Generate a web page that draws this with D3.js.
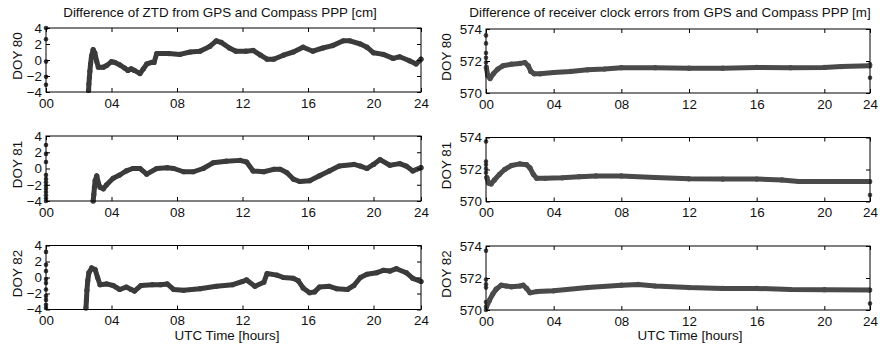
<!DOCTYPE html>
<html><head><meta charset="utf-8">
<script src="https://cdn.jsdelivr.net/npm/d3@7"></script>
<style>
body{margin:0;background:#fff}
svg{display:block}
text{font-family:"Liberation Sans",Arial,Helvetica,sans-serif;fill:#111}
</style>
</head><body><svg id="c" width="880" height="352"></svg>
<script>
// ---------- data ----------
const xTickHoursLeft = [0,4,8,12,16,20,22.9];
const xTickHoursRight = [0,4,8,12,16,20,22.7];
const xTickLabels = ["00","04","08","12","16","20","24"];
const ztdTicks = [-4,-2,0,2,4];
const clockTicks = [570,572,574];
const rowLabels = ["DOY 80","DOY 81","DOY 82"];

const ztd80Start = [[0,4],[0,2.6],[0,-0.2],[0,-2.1],[0,-3.1]];
const ztd80 = [[2.6,-3.8],[2.62,-3.0],[2.65,-2.2],[2.68,-1.4],[2.72,-0.5],[2.78,0.5],[2.88,1.3],[2.98,0.9],[3.1,-0.2],[3.2,-0.9],[3.5,-0.9],[3.7,-0.7],[4.0,-0.2],[4.2,-0.3],[4.5,-0.6],[4.8,-1.0],[5.0,-1.3],[5.2,-1.1],[5.4,-1.3],[5.74,-1.7],[5.95,-1.1],[6.15,-0.5],[6.45,-0.3],[6.6,-0.3],[6.76,0.8],[7.5,0.8],[8.18,0.7],[8.8,1.0],[9.4,1.1],[10.0,1.7],[10.4,2.4],[10.7,2.2],[11.2,1.5],[11.6,1.1],[12.2,1.1],[12.65,1.2],[13.1,0.6],[13.5,0.1],[13.9,0.1],[14.5,0.6],[15.1,1.0],[15.7,1.6],[16.3,1.1],[16.9,1.5],[17.5,1.8],[18.15,2.4],[18.56,2.4],[19.2,2.0],[19.6,1.6],[20.0,0.9],[20.6,0.7],[21.2,0.2],[21.6,0.4],[22.2,-0.1],[22.6,-0.5],[22.9,0.1]];

const ztd81Start = [[0,2.9],[0,1.8],[0,0.8],[0,-0.8],[0,-1.3],[0,-1.7],[0,-2.1],[0,-2.5],[0,-2.9],[0,-3.3],[0,-3.7],[0,-4]];
const ztd81 = [[2.88,-4],[2.92,-3.2],[2.96,-2.3],[3.0,-1.5],[3.1,-0.9],[3.2,-1.8],[3.3,-2.3],[3.5,-2.5],[3.7,-2.0],[4.1,-1.2],[4.5,-0.8],[4.9,-0.3],[5.3,0],[5.74,0],[6.15,-0.7],[6.76,0],[7.4,0.1],[7.8,0],[8.4,-0.4],[9.0,-0.4],[9.6,0],[10.2,0.7],[11.0,0.9],[11.85,1.0],[12.25,0.8],[12.65,-0.3],[13.3,-0.4],[13.9,-0.1],[14.3,-0.1],[14.7,-0.5],[15.1,-1.3],[15.5,-1.6],[16.1,-1.5],[16.7,-0.9],[17.3,-0.3],[17.9,0.3],[18.8,0.5],[19.2,0.3],[19.6,0],[20.0,0.5],[20.4,1.1],[21.0,0.4],[21.6,0.6],[22.0,0.3],[22.4,-0.3],[22.9,0.1]];

const ztd82Start = [[0,3.2],[0,1.6],[0,0.8],[0,-0.2],[0,-0.7],[0,-1.5],[0,-2.3],[0,-2.8],[0,-3.4],[0,-3.8]];
const ztd82 = [[2.44,-3.8],[2.47,-2.8],[2.5,-1.6],[2.55,-0.4],[2.62,0.6],[2.79,1.2],[3.0,1.0],[3.15,0],[3.3,-0.9],[3.7,-0.8],[4.1,-1.0],[4.5,-1.5],[4.9,-1.2],[5.2,-1.5],[5.4,-1.7],[5.8,-1.0],[6.5,-0.9],[7.0,-0.9],[7.4,-0.8],[7.8,-1.5],[8.4,-1.6],[9.4,-1.4],[10.4,-1.1],[11.4,-0.9],[12.0,-0.5],[12.25,-0.3],[12.76,-1.1],[13.3,-0.6],[13.5,0.5],[14.1,0.3],[14.5,0.0],[15.1,-0.1],[15.4,-0.4],[15.7,-1.3],[16.1,-1.9],[16.4,-1.8],[16.7,-1.2],[17.3,-1.1],[17.75,-1.4],[18.4,-1.5],[18.8,-1.0],[19.2,0.0],[19.6,0.4],[20.2,0.6],[20.6,0.9],[21.0,0.8],[21.4,1.1],[22.0,0.6],[22.4,-0.1],[22.9,-0.5]];

const clock80Start = [[0,573.6],[0,573.1],[0,572.5],[0,572.2],[0,571.9]];
const clock80 = [[0.02,571.6],[0.1,571.1],[0.24,570.9],[0.43,571.2],[0.7,571.5],[1.0,571.7],[1.5,571.8],[2.0,571.85],[2.3,571.9],[2.5,571.7],[2.65,571.35],[2.85,571.2],[3.2,571.2],[4.0,571.28],[5,571.35],[6,571.45],[7,571.5],[8,571.58],[10,571.58],[12,571.55],[14,571.55],[16,571.6],[18,571.58],[20,571.6],[21,571.65],[22.68,571.7]];
const clock80End = [[22.7,570.95],[22.7,571.8]];

const clock81Start = [[0,573.75],[0,572.5],[0,572.3],[0,572.05],[0,571.8]];
const clock81 = [[0.05,571.5],[0.15,571.15],[0.3,571.1],[0.5,571.35],[0.8,571.7],[1.1,572.0],[1.5,572.25],[2.0,572.35],[2.4,572.3],[2.6,572.1],[2.8,571.7],[3.0,571.45],[3.5,571.45],[4.5,571.48],[5.5,571.55],[6.5,571.6],[8,571.6],[10,571.5],[12,571.42],[14,571.4],[16,571.4],[17.5,571.35],[18.5,571.25],[20,571.25],[22.68,571.25]];
const clock81End = [[22.7,570.4]];

const clock82Start = [[0,573.7],[0,571.9],[0,571.6],[0,571.4],[0,570.5],[0,570.2],[0,570.0]];
const clock82 = [[0.03,570.2],[0.2,570.6],[0.4,571.0],[0.6,571.3],[0.9,571.55],[1.2,571.5],[1.5,571.45],[2.0,571.5],[2.2,571.55],[2.4,571.35],[2.6,571.08],[3.0,571.15],[4.0,571.2],[6,571.4],[8,571.55],[9,571.6],[10,571.5],[12,571.4],[14,571.35],[16,571.35],[18,571.28],[20,571.27],[22.68,571.25]];
const clock82End = [[22.7,570.4]];

// ---------- layout ----------
const FS = 13.4;
const svg = d3.select("#c");
const panels = [
  {x0:46,x1:421,top:28,bot:92,xEnd:22.9,ticksX:xTickHoursLeft,yDom:[-4,4],yTicks:ztdTicks,line:ztd80,dots:ztd80Start,label:rowLabels[0],labX:17,color:"#3b3b3b"},
  {x0:46,x1:421,top:136,bot:201,xEnd:22.9,ticksX:xTickHoursLeft,yDom:[-4,4],yTicks:ztdTicks,line:ztd81,dots:ztd81Start,label:rowLabels[1],labX:17,color:"#3b3b3b"},
  {x0:46,x1:421,top:245.5,bot:309.5,xEnd:22.9,ticksX:xTickHoursLeft,yDom:[-4,4],yTicks:ztdTicks,line:ztd82,dots:ztd82Start,label:rowLabels[2],labX:17,color:"#3b3b3b"},
  {x0:486,x1:870,top:29,bot:93,xEnd:22.7,ticksX:xTickHoursRight,yDom:[570,574],yTicks:clockTicks,line:clock80,dots:clock80Start.concat(clock80End),label:rowLabels[0],labX:446,color:"#4a4a4a"},
  {x0:486,x1:870,top:137.5,bot:201.5,xEnd:22.7,ticksX:xTickHoursRight,yDom:[570,574],yTicks:clockTicks,line:clock81,dots:clock81Start.concat(clock81End),label:rowLabels[1],labX:446,color:"#4a4a4a"},
  {x0:486,x1:870,top:246,bot:310,xEnd:22.7,ticksX:xTickHoursRight,yDom:[570,574],yTicks:clockTicks,line:clock82,dots:clock82Start.concat(clock82End),label:rowLabels[2],labX:446,color:"#4a4a4a"}
];

panels.forEach(p => {
  const x = d3.scaleLinear().domain([0,p.xEnd]).range([p.x0,p.x1]);
  const y = d3.scaleLinear().domain(p.yDom).range([p.bot,p.top]);
  const g = svg.append("g");

  // data
  const line = d3.line().x(d=>x(d[0])).y(d=>y(d[1]));
  g.append("path").datum(p.line).attr("d",line)
    .attr("fill","none").attr("stroke",p.color).attr("stroke-width",5)
    .attr("stroke-linejoin","round").attr("stroke-linecap","round");
  g.selectAll("circle.m").data(p.line).join("circle")
    .attr("cx",d=>x(d[0])).attr("cy",d=>y(d[1])).attr("r",2.6).attr("fill",p.color);
  g.selectAll("circle.o").data(p.dots).join("circle")
    .attr("cx",d=>x(d[0])).attr("cy",d=>y(d[1])).attr("r",2.3).attr("fill",p.color);

  // axes (MATLAB style, inward ticks on all sides)
  const fmt = (d,i)=>xTickLabels[i];
  g.append("g").attr("transform",`translate(0,${p.bot})`)
    .call(d3.axisBottom(x).tickValues(p.ticksX).tickFormat(fmt).tickSize(-4).tickPadding(6));
  g.append("g").attr("transform",`translate(0,${p.top})`)
    .call(d3.axisTop(x).tickValues(p.ticksX).tickFormat("").tickSize(-4));
  g.append("g").attr("transform",`translate(${p.x0},0)`)
    .call(d3.axisLeft(y).tickValues(p.yTicks).tickFormat(d3.format("d")).tickSize(-4).tickPadding(4));
  g.append("g").attr("transform",`translate(${p.x1},0)`)
    .call(d3.axisRight(y).tickValues(p.yTicks).tickFormat("").tickSize(-4));
  g.selectAll(".domain").remove();
  g.selectAll(".tick line").attr("stroke","#000").attr("stroke-width",1);
  g.selectAll(".tick text").attr("font-size",FS).attr("font-family","Liberation Sans, Arial, sans-serif").attr("fill","#111");

  g.append("rect").attr("x",p.x0).attr("y",p.top).attr("width",p.x1-p.x0).attr("height",p.bot-p.top)
    .attr("fill","none").attr("stroke","#000").attr("stroke-width",1);

  g.append("text").attr("transform",`translate(${p.labX},${(p.top+p.bot)/2-4}) rotate(-90)`)
    .attr("text-anchor","middle").attr("dy","0.35em").attr("font-size",FS).text(p.label);
});

svg.append("text").attr("x",220).attr("y",17).attr("text-anchor","middle").attr("font-size",FS)
  .text("Difference of ZTD from GPS and Compass PPP [cm]");
svg.append("text").attr("x",670).attr("y",17).attr("text-anchor","middle").attr("font-size",FS)
  .text("Difference of receiver clock errors from GPS and Compass PPP [m]");
svg.append("text").attr("x",227).attr("y",340).attr("text-anchor","middle").attr("font-size",FS)
  .text("UTC Time [hours]");
svg.append("text").attr("x",690).attr("y",340).attr("text-anchor","middle").attr("font-size",FS)
  .text("UTC Time [hours]");
</script></body></html>
